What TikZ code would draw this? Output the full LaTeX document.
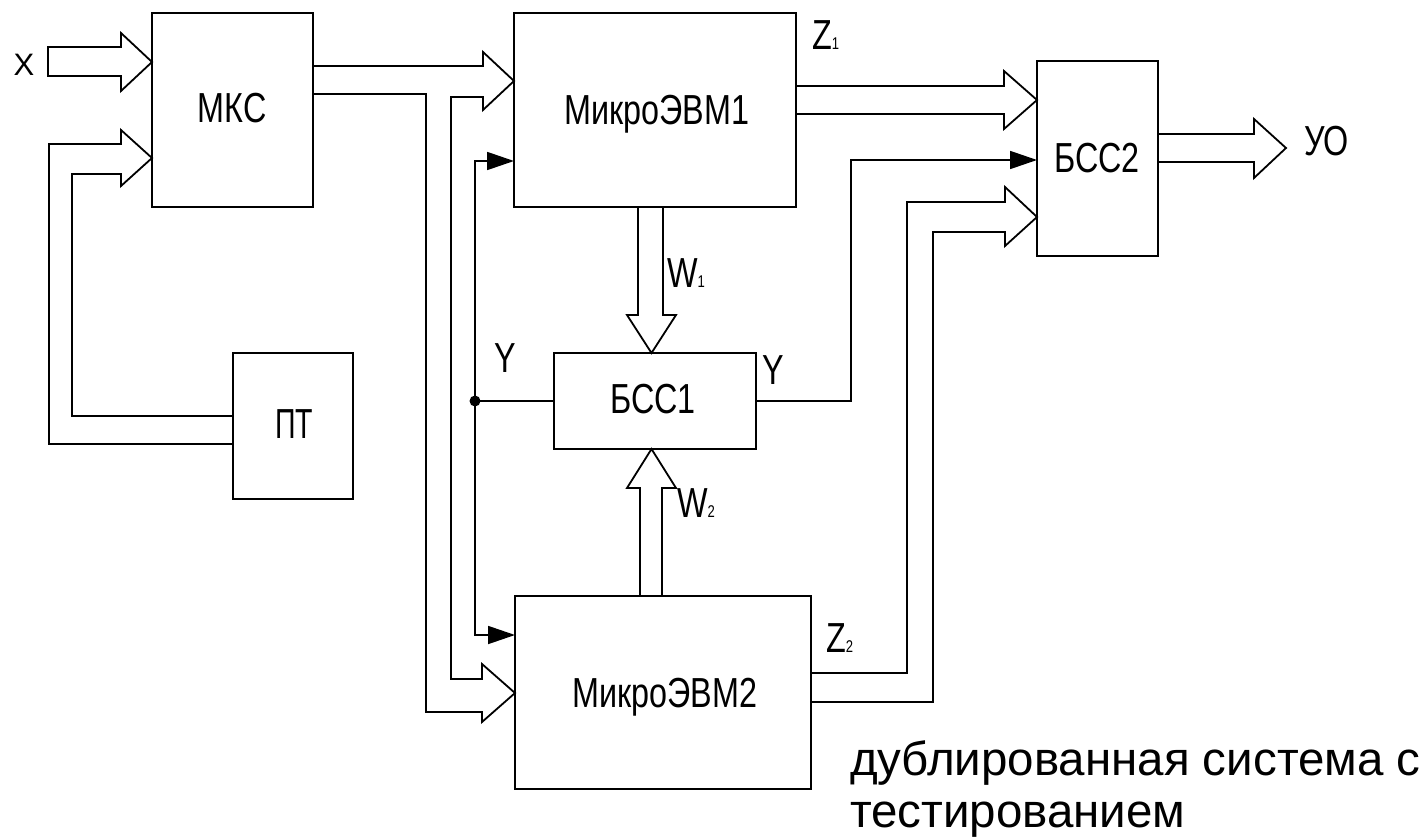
\documentclass[tikz,border=0pt]{standalone}
\usepackage{graphicx}
\usepackage{fontspec}
\setmainfont{Liberation Sans}
\usetikzlibrary{arrows.meta}
\newcommand\sqz[1]{\scalebox{0.77}[1]{#1}}
\newcommand\subd[1]{{\fontsize{17}{17}\selectfont #1}}
\begin{document}
\begin{tikzpicture}[x=1pt,y=-1pt,line width=1.8pt,line join=miter,
  blk/.style={draw,rectangle,inner sep=0pt,outer sep=0pt},
  lbl/.style={inner sep=0pt,outer sep=0pt,anchor=base,font=\fontsize{42}{42}\selectfont},
  lblw/.style={lbl,anchor=base west},
  capt/.style={inner sep=0pt,outer sep=0pt,anchor=base west,font=\fontsize{47.5}{52}\selectfont},
  jdot/.style={circle,fill,inner sep=0pt,minimum size=11pt},
  fa/.style={-{Triangle[length=27pt,width=18pt]}}]
\useasboundingbox (0,0) rectangle (1427,840);

% blocks
\node[blk,minimum width=161pt,minimum height=194pt] (mkc) at (232.5,110) {};
\node[blk,minimum width=120pt,minimum height=146pt] (pt) at (293,426) {};
\node[blk,minimum width=282pt,minimum height=194pt] (m1) at (655,110) {};
\node[blk,minimum width=202pt,minimum height=96pt] (bss1) at (655,401) {};
\node[blk,minimum width=296pt,minimum height=193pt] (m2) at (663,692.5) {};
\node[blk,minimum width=121pt,minimum height=195pt] (bss2) at (1097.5,158.5) {};

% block texts
\node[lbl] (tmkc) at (232,123) {\sqz{МКС}};
\node[lbl] (tpt) at (294,438) {\scalebox{0.68}[1]{ПТ}};
\node[lbl] (tm1) at (657,125) {\sqz{МикроЭВМ1}};
\node[lbl] (tbss1) at (653,413) {\sqz{БСС1}};
\node[lbl] (tm2) at (665,707) {\sqz{МикроЭВМ2}};
\node[lbl] (tbss2) at (1097,172) {\sqz{БСС2}};

% X input
\draw (48,47) -- (121,47) -- (121,33) -- (mkc.west |- 0,62) -- (121,91) -- (121,76) -- (48,76) -- cycle;
\node[lbl,font=\fontsize{31}{31}\selectfont] (tx) at (24,76) {X};

% PT -> MKC
\draw (pt.west |- 0,444) -- (49,444) -- (49,144) -- (121,144) -- (121,130) -- (mkc.west |- 0,158)
  -- (121,186) -- (121,174) -- (72,174) -- (72,416) -- (pt.west |- 0,416);

% MKC -> M1 and M2
\draw (mkc.east |- 0,66) -- (483,66) -- (483,52) -- (m1.west |- 0,81) -- (483,110) -- (483,97)
  -- (451,97) -- (451,679) -- (482,679) -- (482,664) -- (m2.west |- 0,693) -- (482,722)
  -- (482,712) -- (426,712) -- (426,94) -- (mkc.east |- 0,94);

% Y feedback
\node[jdot] (j) at (475,401) {};
\draw (bss1.west) -- (j.center);
\draw[fa] (j.center) -- (475,161) -- (m1.west |- 0,161);
\draw[fa] (j.center) -- (475,635) -- (m2.west |- 0,635);
\node[lbl] (ty1) at (505,372) {\sqz{Y}};

% BSS1 -> BSS2
\draw[fa] (bss1.east) -- (851,401) -- (851,160) -- (bss2.west |- 0,160);
\node[lbl] (ty2) at (773,384) {\sqz{Y}};

% W1
\draw (m1.south -| 638,0) -- (638,315) -- (627,315) -- (bss1.north -| 651.5,0) -- (676,315) -- (663,315) -- (m1.south -| 663,0);
\node[lblw] (tw1) at (667,287) {\sqz{W\subd{1}}};

% W2
\draw (m2.north -| 640,0) -- (640,488) -- (627,488) -- (bss1.south -| 651.5,0) -- (676,488) -- (662,488) -- (m2.north -| 662,0);
\node[lblw] (tw2) at (677,517) {\sqz{W\subd{2}}};

% Z1
\draw (m1.east |- 0,86) -- (1004,86) -- (1004,71) -- (bss2.west |- 0,100) -- (1004,129) -- (1004,114) -- (m1.east |- 0,114);
\node[lblw] (tz1) at (812,50) {\sqz{Z\subd{1}}};

% Z2
\draw (m2.east |- 0,673) -- (907,673) -- (907,202) -- (1005,202) -- (1005,187) -- (bss2.west |- 0,217)
  -- (1005,246) -- (1005,232) -- (933,232) -- (933,702) -- (m2.east |- 0,702);
\node[lblw] (tz2) at (826,652) {\sqz{Z\subd{2}}};

% output
\coordinate (uo) at (1286,148);
\draw (bss2.east |- 0,134) -- (1254,134) -- (1254,119) -- (uo) -- (1254,178) -- (1254,162) -- (bss2.east |- 0,162);
\node[lblw] (tuo) at (1304,156) {\sqz{УО}};

% caption
\node[capt] (cap1) at (850,775) {дублированная система с};
\node[capt] (cap2) at (850,827) {тестированием};
\end{tikzpicture}
\end{document}
